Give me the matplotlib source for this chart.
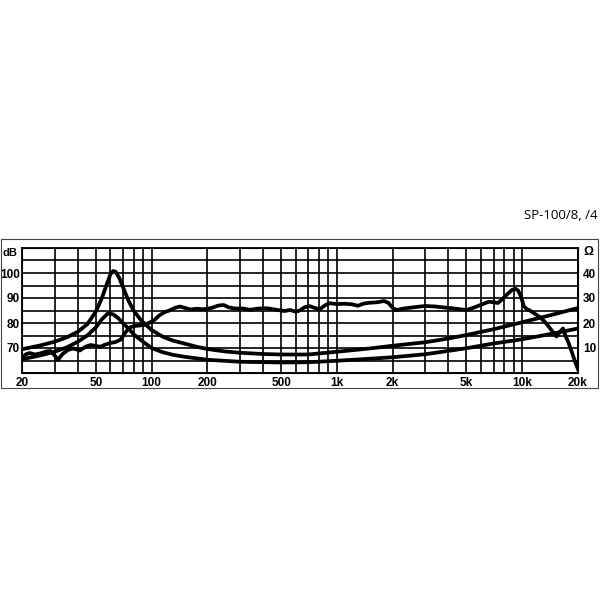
import numpy as np
import matplotlib
matplotlib.use('Agg')
import matplotlib.pyplot as plt
from matplotlib.patches import Rectangle
from matplotlib.ticker import FixedLocator, NullFormatter

plt.rcParams['font.family'] = ['Liberation Sans', 'DejaVu Sans']

# impedance curve, 8 ohm version (right axis, ohm)
f_imp8 = [20, 25, 30, 35, 40, 45, 50, 54, 57, 60, 62, 64, 67, 70, 75, 80, 88,
          100, 115, 130, 150, 175, 200, 250, 300, 400, 500, 700, 1000, 1500,
          2000, 3000, 4000, 5000, 7000, 10000, 14000, 20000]
z_imp8 = [9.5, 11, 12.5, 14.3, 16.5, 19.5, 24.5, 30, 35, 39.5, 40.8, 40.5, 38,
          34.5, 29, 25, 21, 17.2, 14.5, 13, 11.8, 10.5, 9.6, 8.6, 8.1, 7.6, 7.4,
          7.4, 8.5, 9.8, 10.9, 12.3, 13.8, 15.2, 17.5, 20.3, 23, 26]

# impedance curve, 4 ohm version
f_imp4 = [20, 25, 30, 35, 40, 45, 50, 54, 58, 62, 66, 70, 75, 80, 90, 100, 115,
          130, 150, 200, 300, 500, 700, 1000, 1500, 2000, 3000, 5000, 7000,
          10000, 14000, 20000]
z_imp4 = [5.5, 7, 8.5, 10.3, 12.5, 15, 18.2, 21.5, 23.8, 23.5, 22, 20, 17.8,
          15.5, 12.5, 10, 8.3, 7.3, 6.5, 5.3, 4.5, 4.2, 4.3, 4.9, 5.7, 6.3, 7.5,
          9.9, 11.8, 13.5, 15.5, 17.8]

# frequency response (left axis, dB)
f_resp = [20, 21, 22, 23.5, 25, 27, 28.5, 30, 31.3, 33, 35.5, 38, 41, 44, 47,
          50, 53, 56, 60, 64, 68, 72, 76, 81, 86, 92, 98, 104, 110, 118, 125,
          133, 142, 152, 162, 175, 190, 210, 230, 245, 260, 280, 310, 340, 380,
          420, 470, 520, 560, 600, 630, 670, 710, 760, 810, 860, 910, 1000,
          1100, 1200, 1300, 1400, 1500, 1650, 1800, 1900, 2000, 2100, 2300,
          2600, 3000, 3400, 3800, 4200, 4600, 5000, 5500, 6000, 6600, 7000,
          7400, 7800, 8300, 8800, 9200, 9500, 9800, 10200, 10600, 11000, 11800,
          12500, 13500, 14500, 15300, 16000, 16600, 17100, 17800, 18600, 19400,
          20000]
spl_resp = [65.8, 67.5, 68.0, 67.4, 67.8, 68.6, 68.8, 67.0, 65.3, 67.5, 69.3,
            69.8, 69.0, 70.5, 71.2, 70.8, 70.5, 71.3, 72.0, 72.4, 73.3, 76.0,
            78.2, 78.8, 79.0, 79.3, 80.2, 81.3, 83.0, 84.4, 85.0, 86.0, 86.6,
            86.0, 85.4, 85.7, 85.5, 86.0, 87.0, 87.2, 86.3, 85.8, 85.8, 85.3,
            85.8, 85.9, 85.3, 84.8, 85.2, 84.5, 85.0, 86.3, 86.8, 86.0, 85.5,
            87.0, 87.9, 87.6, 87.7, 87.5, 86.9, 87.8, 88.1, 88.3, 88.8, 88.0,
            86.0, 85.2, 85.8, 86.3, 86.8, 86.6, 86.2, 85.9, 85.5, 85.2, 86.2,
            87.3, 88.5, 88.3, 88.0, 89.5, 91.5, 93.2, 93.7, 93.0, 91.0, 86.8,
            85.5, 85.0, 83.5, 82.3, 79.8, 76.8, 74.6, 76.5, 77.8, 75.0, 72.0,
            68.0, 64.0, 61.5]

x_labels = [20, 50, 100, 200, 500, 1000, 2000, 5000, 10000, 20000]
x_label_text = ['20', '50', '100', '200', '500', '1k', '2k', '5k', '10k', '20k']
db_labels = [70, 80, 90, 100]
ohm_labels = [10, 20, 30, 40]

grid_freqs = [k * 10 ** e for e in range(1, 5) for k in range(1, 10)
              if 20 <= k * 10 ** e <= 20000]

fig = plt.figure(figsize=(6, 6), dpi=100)
fig.patches.append(Rectangle((1 / 600, 1 - 388 / 600), 597 / 600, 149 / 600,
                             transform=fig.transFigure, fill=False,
                             edgecolor='#444444', lw=0.8))

ax = fig.add_axes([22 / 600, 1 - 373 / 600, 556 / 600, 125 / 600])
ax.set_xscale('log')
ax.set_xlim(20, 20000)
ax.set_ylim(60, 110)
ax.xaxis.set_major_locator(FixedLocator(x_labels))
ax.set_xticklabels(x_label_text)
ax.xaxis.set_minor_locator(FixedLocator(grid_freqs))
ax.xaxis.set_minor_formatter(NullFormatter())
ax.set_yticks(range(60, 111, 5))
ax.set_yticklabels([str(v) if v in db_labels else '' for v in range(60, 111, 5)])
ax.grid(which='both', color='black', lw=1.2)
ax.tick_params(axis='x', which='both', length=0, labelsize=8.5, pad=3)
ax.tick_params(axis='y', which='both', length=0, labelsize=8.5, pad=1.5)
for lab in ax.get_xticklabels() + ax.get_yticklabels():
    lab.set_fontweight('bold')
for s in ax.spines.values():
    s.set_linewidth(1.3)

ax.plot(f_resp, spl_resp, color='black', lw=2.7, solid_joinstyle='round', zorder=3)

ax2 = ax.twinx()
ax2.set_ylim(0, 50)
ax2.set_yticks(ohm_labels)
ax2.tick_params(length=0, labelsize=8.5, pad=3.5)
for lab in ax2.get_yticklabels():
    lab.set_fontweight('bold')
ax2.plot(f_imp8, z_imp8, color='black', lw=2.7, solid_joinstyle='round')
ax2.plot(f_imp4, z_imp4, color='black', lw=2.7, solid_joinstyle='round')

fig.text(10 / 600, 1 - 253 / 600, 'dB', ha='center', va='center', fontsize=8,
         fontweight='bold')
fig.text(588 / 600, 1 - 252 / 600, 'Ω', ha='center', va='center', fontsize=9,
         fontweight='bold')
fig.text(597 / 600, 1 - 215 / 600, 'SP-100/8, /4', ha='right', va='center',
         fontsize=9.5, family=['Open Sans', 'DejaVu Sans'])

fig.savefig('out.png', dpi=100)
